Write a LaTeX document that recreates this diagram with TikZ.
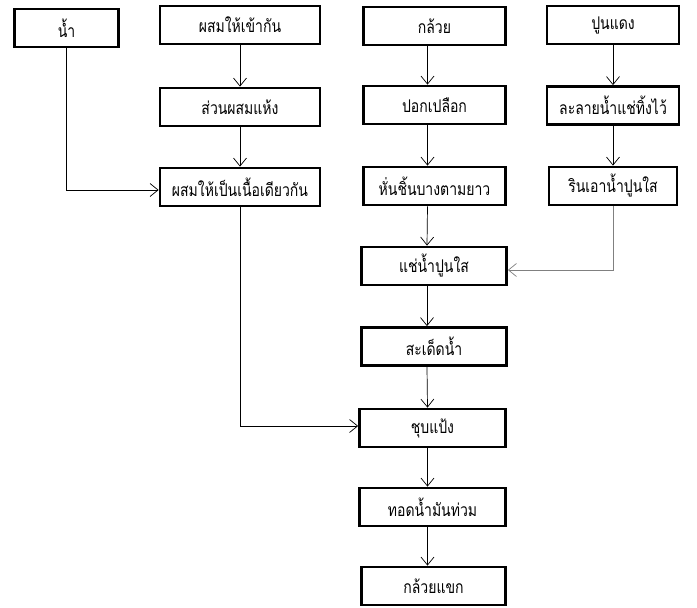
\documentclass[tikz,border=0pt]{standalone}
\usepackage{fontspec}
\newfontfamily\thaifont[Script=Thai, FakeStretch=0.8]{Loma}
\usetikzlibrary{arrows.meta,positioning}

\begin{document}
\begin{tikzpicture}[x=1pt, y=-1pt,
  box/.style={draw, line width=2.8pt, minimum height=38pt, inner sep=0pt,
              font=\thaifont\fontsize{17.5}{20}\selectfont},
  flow/.style={-{Straight Barb[length=8pt,width=13pt]}, line width=0.7pt}
]
  \useasboundingbox (0,0) rectangle (697,608);

  \node[box, minimum width=104pt] (water)    at (66.5, 28)  {น้ำ};
  \node[box, minimum width=160pt] (mix)      at (240, 25)   {ผสมให้เข้ากัน};
  \node[box, minimum width=160pt] (dry)      at (240, 107)  {ส่วนผสมแห้ง};
  \node[box, minimum width=160pt] (dough)    at (240, 187)  {ผสมให้เป็นเนื้อเดียวกัน};
  \node[box, minimum width=142pt] (banana)   at (434.5, 26) {กล้วย};
  \node[box, minimum width=142pt] (peel)     at (434.5, 105){ปอกเปลือก};
  \node[box, minimum width=142pt] (slice)    at (434.5, 186){หั่นชิ้นบางตามยาว};
  \node[box, minimum width=132pt] (lime)     at (613, 25)   {ปูนแดง};
  \node[box, minimum width=132pt] (dissolve) at (613, 105.5){ละลายน้ำแช่ทิ้งไว้};
  \node[box, minimum width=128pt] (pour)     at (613, 186)  {รินเอาน้ำปูนใส};
  \node[box, minimum width=145pt] (soak)     at (434, 266)  {แช่น้ำปูนใส};
  \node[box, minimum width=145pt] (drain)    at (434, 346.5){สะเด็ดน้ำ};
  \node[box, minimum width=146pt] (coat)     at (432.5, 428){ชุบแป้ง};
  \node[box, minimum width=146pt] (fry)      at (432.5, 507){ทอดน้ำมันท่วม};
  \node[box, minimum width=144pt] (done)     at (433.5, 586){กล้วยแขก};

  \draw[flow] (mix) -- (dry);
  \draw[flow] (dry) -- (dough);
  \draw[flow] (water.south) |- ([yshift=-3pt]dough.west);

  \draw[flow] ([xshift=-7pt]banana.south) -- ([xshift=-7pt]peel.north);
  \draw[flow] ([xshift=-7pt]peel.south) -- ([xshift=-7pt]slice.north);
  \draw[flow] ([xshift=-7pt]slice.south) -- ([xshift=-7pt]soak.north);

  \draw[flow] (lime) -- (dissolve);
  \draw[flow] (dissolve) -- (pour);
  \draw[flow, gray] (pour.south) |- ([yshift=-4pt]soak.east);

  \draw[flow] ([xshift=-7pt]soak.south) -- ([xshift=-7pt]drain.north);
  \draw[flow] ([xshift=-7pt]drain.south) -- ([xshift=-5pt]coat.north);
  \draw[flow] (dough.south) |- ([yshift=2pt]coat.west);
  \draw[flow] ([xshift=-5pt]coat.south) -- ([xshift=-5pt]fry.north);
  \draw[flow] ([xshift=-5pt]fry.south) -- ([xshift=-6pt]done.north);
\end{tikzpicture}
\end{document}
